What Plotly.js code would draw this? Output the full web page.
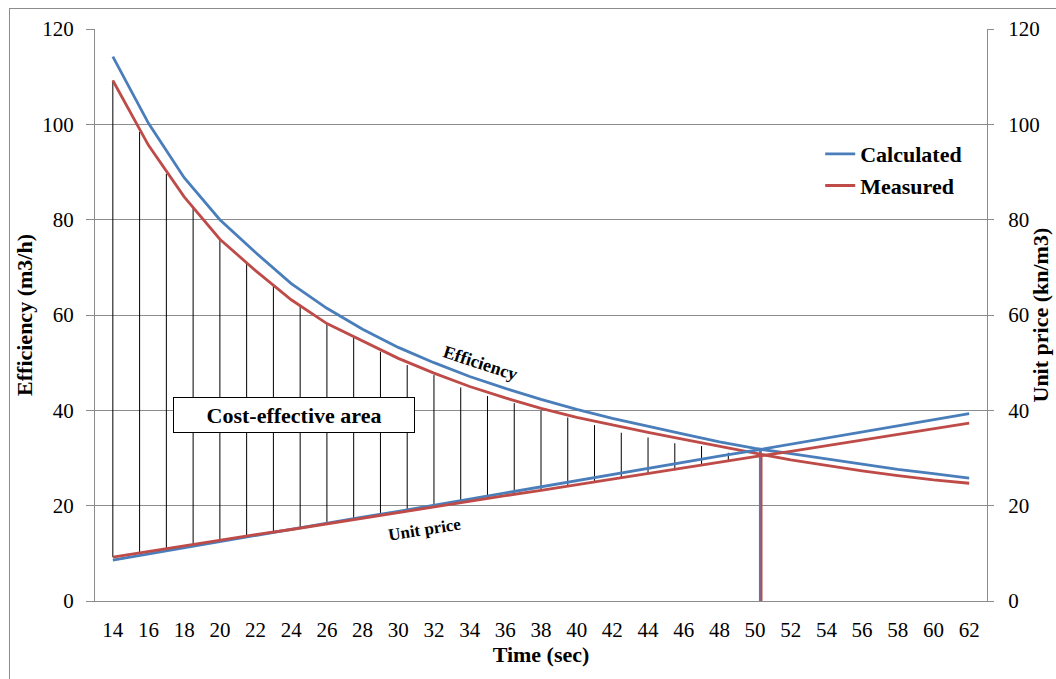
<!DOCTYPE html>
<html>
<head>
<meta charset="utf-8">
<script src="https://cdn.plot.ly/plotly-3.0.1.min.js"></script>
<style>
  html, body { margin: 0; padding: 0; background: #ffffff; overflow: hidden; }
  #frame { position: absolute; left: 9px; top: 8px; width: 1200px; height: 800px; border: 1px solid #8c8c8c; box-sizing: border-box; }
  #chart { position: absolute; left: 0; top: 0; width: 1056px; height: 679px; }
  #chart text { font-family: 'Liberation Serif' !important; }
</style>
</head>
<body>
<div id="frame"></div>
<div id="chart"></div>
<script>
// ---- data ----
const times = [14,16,18,20,22,24,26,28,30,32,34,36,38,40,42,44,46,48,50,52,54,56,58,60,62];
const efficiencyCalculated = [114.2,100.2,88.8,80.0,73.1,66.6,61.4,57.0,53.2,50.0,47.1,44.6,42.3,40.2,38.3,36.6,35.0,33.4,32.0,30.9,29.8,28.7,27.6,26.7,25.8];
const efficiencyMeasured   = [109.2,95.6,84.8,75.9,69.3,63.2,58.2,54.5,50.9,47.8,45.0,42.6,40.4,38.5,36.9,35.4,33.9,32.4,31.0,29.6,28.4,27.3,26.3,25.4,24.7];
const unitPriceCalculated  = [8.6,9.9,11.2,12.4,13.7,15.0,16.3,17.6,18.8,20.1,21.4,22.7,24.0,25.2,26.5,27.8,29.1,30.4,31.6,32.9,34.2,35.5,36.8,38.0,39.3];
const unitPriceMeasured    = [9.2,10.4,11.5,12.7,13.9,15.0,16.2,17.4,18.6,19.7,20.9,22.1,23.2,24.4,25.6,26.8,27.9,29.1,30.3,31.4,32.6,33.8,35.0,36.1,37.3];

// hatching of the cost-effective area (vertical strokes)
const hatchX      = [14,15.5,17,18.5,20,21.5,23,24.5,26,27.5,29,30.5,32,33.5,35,36.5,38,39.5,41,42.5,44,45.5,47,48.5];
const hatchTop    = [109.2,98.4,89.6,82.5,75.9,71.0,66.2,61.9,58.2,55.4,52.3,49.5,47.4,44.8,43.0,41.5,39.9,38.5,36.9,35.3,34.3,33.1,32.5,31.1];
const hatchBottom = [9.2,10.1,11.0,11.8,12.7,13.6,14.5,15.3,16.2,17.1,18.0,18.9,19.7,20.6,21.5,22.4,23.2,24.1,25.0,25.8,26.6,27.4,28.3,29.2];

// break-even drop lines (calculated, measured)
const dropX   = [50.3, 50.36];
const dropTop = [31.8, 30.6];

const tickLabels = times.map(String);
const yTicks = [0,20,40,60,80,100,120];

const BLUE = '#4a7ebb';
const RED  = '#be4b48';
const GRID = '#8c8c8c';
const FONT = 'Liberation Serif';

const hx = [], hy = [];
hatchX.forEach((x, i) => { hx.push(x, x, null); hy.push(hatchTop[i], hatchBottom[i], null); });

const traces = [
  { x: hx, y: hy, mode: 'lines', line: { color: '#000000', width: 1 }, showlegend: false, hoverinfo: 'skip' },
  { x: [dropX[0], dropX[0]], y: [dropTop[0], 0], mode: 'lines', line: { color: BLUE, width: 3 }, showlegend: false, hoverinfo: 'skip' },
  { x: [dropX[1], dropX[1]], y: [dropTop[1], 0], mode: 'lines', line: { color: RED, width: 2 }, showlegend: false, hoverinfo: 'skip' },
  { x: times, y: unitPriceCalculated, yaxis: 'y2', mode: 'lines', line: { color: BLUE, width: 2.8 }, showlegend: false, name: 'Unit price (calculated)' },
  { x: times, y: unitPriceMeasured, yaxis: 'y2', mode: 'lines', line: { color: RED, width: 2.8 }, showlegend: false, name: 'Unit price (measured)' },
  { x: times, y: efficiencyCalculated, mode: 'lines', line: { color: BLUE, width: 2.8 }, name: 'Calculated' },
  { x: times, y: efficiencyMeasured, mode: 'lines', line: { color: RED, width: 2.8 }, name: 'Measured' }
];

const layout = {
  width: 1056, height: 679,
  margin: { l: 95, r: 69, t: 29, b: 78 },
  paper_bgcolor: 'rgba(0,0,0,0)',
  plot_bgcolor: 'rgba(0,0,0,0)',
  font: { family: FONT, size: 21, color: '#000000' },
  showlegend: true,
  legend: {
    x: 0.813, y: 0.818, xanchor: 'left', yanchor: 'top',
    bgcolor: 'rgba(0,0,0,0)', borderwidth: 0,
    font: { family: FONT, size: 22, color: '#000000', weight: 'bold' },
    tracegroupgap: 0
  },
  xaxis: {
    range: [13, 63], tickmode: 'array', tickvals: times, ticktext: tickLabels,
    showgrid: false, zeroline: false, showline: true, linecolor: GRID, linewidth: 1,
    ticks: '', ticklabelstandoff: 10,
    tickfont: { family: FONT, size: 21, color: '#000000' },
    title: { text: 'Time (sec)', font: { family: FONT, size: 22, color: '#000000', weight: 'bold' }, standoff: 5 }
  },
  yaxis: {
    range: [0, 120], tickmode: 'array', tickvals: yTicks,
    showgrid: true, gridcolor: GRID, gridwidth: 1, zeroline: false,
    showline: true, linecolor: GRID, linewidth: 1,
    ticks: 'outside', ticklen: 8, tickcolor: GRID, ticklabelstandoff: 8,
    tickfont: { family: FONT, size: 21, color: '#000000' },
    title: { text: 'Efficiency (m3/h)', font: { family: FONT, size: 22, color: '#000000', weight: 'bold' }, standoff: 3 }
  },
  yaxis2: {
    range: [0, 120], tickmode: 'array', tickvals: yTicks, overlaying: 'y', side: 'right',
    showgrid: false, zeroline: false, showline: true, linecolor: GRID, linewidth: 1,
    ticks: 'outside', ticklen: 6, tickcolor: GRID, ticklabelstandoff: 10,
    tickfont: { family: FONT, size: 21, color: '#000000' }
  },
  annotations: [
    { x: 24.15, y: 39.0, xref: 'x', yref: 'y', text: '<b>Cost-effective area</b>', showarrow: false,
      font: { family: FONT, size: 22, color: '#000000' }, bgcolor: '#ffffff', bordercolor: '#000000', borderwidth: 1,
      width: 238, height: 32 },
    { x: 34.6, y: 50.0, xref: 'x', yref: 'y', text: '<b>Efficiency</b>', showarrow: false, textangle: 18,
      font: { family: FONT, size: 18, color: '#000000' } },
    { x: 31.5, y: 14.9, xref: 'x', yref: 'y', text: '<b>Unit price</b>', showarrow: false, textangle: -9,
      font: { family: FONT, size: 17, color: '#000000' } },
    { x: 1, xshift: 67, y: 0.5, xref: 'paper', yref: 'paper', text: '<b>Unit price (kn/m3)</b>', showarrow: false, textangle: -90,
      font: { family: FONT, size: 22, color: '#000000' } }
  ]
};

Plotly.newPlot('chart', traces, layout, { staticPlot: true, displayModeBar: false });
</script>
</body>
</html>
